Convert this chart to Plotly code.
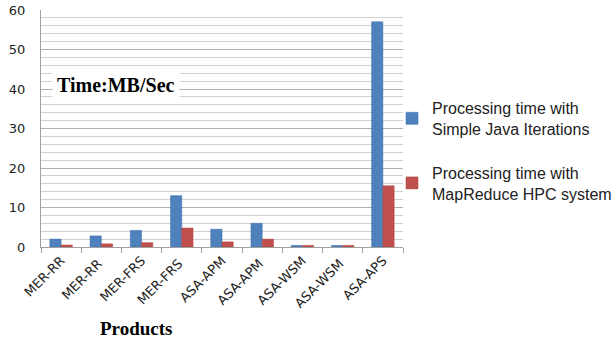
import plotly.graph_objects as go

categories = ["MER-RR", "MER-RR ", "MER-FRS", "MER-FRS ", "ASA-APM", "ASA-APM ", "ASA-WSM", "ASA-WSM ", "ASA-APS"]
java_times = [2.0, 2.8, 4.2, 13.0, 4.5, 6.0, 0.4, 0.4, 57.0]
hpc_times = [0.5, 0.8, 1.1, 4.8, 1.3, 2.0, 0.4, 0.4, 15.5]
series_names = ["Processing time with<br>Simple Java Iterations",
                "Processing time with<br>MapReduce HPC system"]
y_ticks = [0, 10, 20, 30, 40, 50, 60]

fig = go.Figure()
fig.add_trace(go.Bar(x=categories, y=java_times, name=series_names[0], legendgroup="a",
                     marker=dict(color="#4F81BD", line=dict(color="#3A6DB0", width=0.5))))
fig.add_trace(go.Bar(x=categories, y=hpc_times, name=series_names[1], legendgroup="b",
                     marker=dict(color="#C0504D", line=dict(color="#B0403D", width=0.5))))

W, H = 611, 342
fig.update_layout(
    width=W, height=H,
    margin=dict(l=41, r=208, t=10, b=95, autoexpand=False),
    paper_bgcolor="white", plot_bgcolor="white",
    barmode="group", bargap=0.44, bargroupgap=0,
    font=dict(family="Liberation Sans, Arial", size=13, color="black"),
    legend=dict(xref="container", yref="container", x=392 / W, y=1 - 91 / H,
                xanchor="left", yanchor="top",
                font=dict(family="Liberation Sans, Arial", size=16, color="#222"),
                tracegroupgap=20, itemwidth=30, bgcolor="rgba(0,0,0,0)"),
    showlegend=True,
)
fig.update_yaxes(range=[0, 60], tickvals=y_ticks, showgrid=True, gridcolor="#B0B0B0", gridwidth=1,
                 minor=dict(dtick=2, showgrid=True, gridcolor="#D0D0D0", gridwidth=1),
                 showline=True, linecolor="#A0A0A0", linewidth=1, zeroline=False, automargin=False,
                 ticklabelstandoff=12,
                 tickfont=dict(family="DejaVu Sans", size=13, color="#222"), ticks="", ticklen=0)
fig.update_xaxes(showline=True, linecolor="#A0A0A0", linewidth=1, tickangle=-45, automargin=False,
                 ticks="outside", tickson="boundaries", ticklen=5, tickcolor="#A0A0A0",
                 tickfont=dict(family="DejaVu Sans", size=13, color="#222"))

fig.add_annotation(xref="x", yref="y", x=1.37, y=41.1, text="<b>Time:MB/Sec</b>",
                   showarrow=False, bgcolor="white", borderpad=4, xanchor="center",
                   font=dict(family="Liberation Serif, Times New Roman", size=20, color="black"))
fig.add_annotation(xref="paper", yref="paper", x=0.262, y=-0.342, text="<b>Products</b>",
                   showarrow=False, xanchor="center", yanchor="middle",
                   font=dict(family="Liberation Serif, Times New Roman", size=19, color="black"))

fig.write_html("out.html", config={"displayModeBar": False},
               post_script="document.body.style.margin='0';")
